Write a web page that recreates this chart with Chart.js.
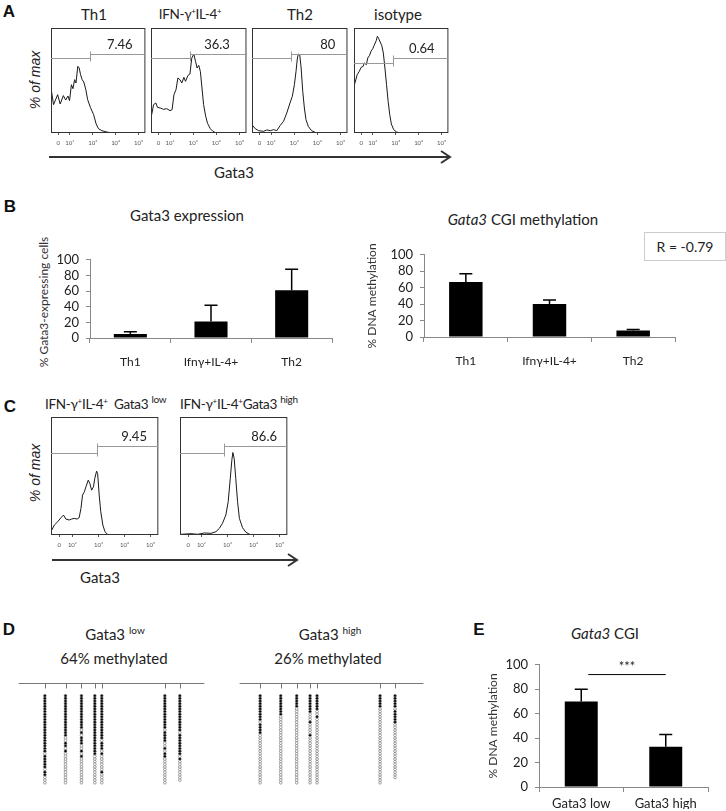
<!DOCTYPE html>
<html>
<head>
<meta charset="utf-8">
<script src="https://cdn.jsdelivr.net/npm/chart.js@4"></script>
<style>
  body { margin: 0; background: #fff; }
  #fig { position: relative; width: 726px; height: 811px; overflow: hidden; font-family: Lato, "Open Sans", sans-serif; color: #222; }
  #fig canvas { position: absolute; }
  .t { position: absolute; white-space: nowrap; line-height: 1; font-size: 15px; }
  .ctr { transform: translate(-50%, -50%); }
  .rot { transform: translate(-50%, -50%) rotate(-90deg); font-family: "Liberation Sans", Arial, sans-serif; font-style: italic; font-size: 14px; }
  .yt { transform: translate(-50%, -50%) rotate(-90deg); font-size: 12px; color: #333; }
  .lab { font-family: "Liberation Sans", Arial, sans-serif; font-weight: bold; font-size: 17px; color: #111; }
  .tight { font-size: 13.5px; letter-spacing: -0.3px; }
  .sp { font-size: 8px; vertical-align: 5px; }
  .sl { font-size: 10px; vertical-align: 6px; }
  #rbox { position: absolute; left: 644px; top: 232px; width: 82px; height: 29px; border: 1px solid #ccc; box-sizing: border-box;
          font-size: 14px; display: flex; align-items: center; justify-content: center; }
  svg { position: absolute; left: 0; top: 0; }
</style>
</head>
<body>
<div id="fig">
  <svg width="726" height="811">
    <g stroke="#333" stroke-width="2" fill="none">
      <line x1="49" y1="157" x2="449" y2="157"/>
      <polyline points="441,151 450,157 441,163"/>
      <line x1="52" y1="560" x2="296" y2="560"/>
      <polyline points="288,554 297,560 288,566"/>
    </g>
  </svg>

  <div class="t lab ctr" style="left:9px;top:11px">A</div>
  <div class="t ctr" style="left:94px;top:14px">Th1</div>
  <div class="t ctr tight" style="left:190px;top:14px">IFN-γ<span class="sp">+</span>IL-4<span class="sp">+</span></div>
  <div class="t ctr" style="left:300px;top:14px">Th2</div>
  <div class="t ctr" style="left:398px;top:14px">isotype</div>
  <div class="t rot" style="left:35px;top:80px">% of max</div>
  <div class="t ctr" style="left:234px;top:172px">Gata3</div>

  <div class="t lab ctr" style="left:10px;top:206px">B</div>
  <div class="t ctr" style="left:187px;top:215px">Gata3 expression</div>
  <div class="t yt" style="left:44px;top:302px">% Gata3-expressing cells</div>
  <div class="t ctr" style="left:523px;top:219px"><i>Gata3</i> CGI methylation</div>
  <div id="rbox">R = -0.79</div>

  <div class="t lab ctr" style="left:10px;top:406px">C</div>
  <div class="t tight" style="left:45px;top:394px">IFN-γ<span class="sp">+</span>IL-4<span class="sp">+</span>&nbsp; Gata3 <span class="sl">low</span></div>
  <div class="t tight" style="left:180px;top:394px">IFN-γ<span class="sp">+</span>IL-4<span class="sp">+</span>Gata3 <span class="sl">high</span></div>
  <div class="t rot" style="left:35px;top:473px">% of max</div>
  <div class="t ctr" style="left:100px;top:577px">Gata3</div>

  <div class="t lab ctr" style="left:9px;top:629px">D</div>
  <div class="t ctr" style="left:115px;top:633px">Gata3 <span class="sl">low</span></div>
  <div class="t ctr" style="left:114px;top:658px">64% methylated</div>
  <div class="t ctr" style="left:330px;top:633px">Gata3 <span class="sl">high</span></div>
  <div class="t ctr" style="left:328px;top:658px">26% methylated</div>

  <div class="t lab ctr" style="left:479px;top:629px">E</div>
  <div class="t ctr" style="left:605px;top:633px"><i>Gata3</i> CGI</div>
</div>

<script>
// ---- flow histograms (x in decades on logicle axis, y in % of max) ----
const histTicks = [1.5, 2, 3, 4, 5];
const histTickLabels = ["0", "10²", "10³", "10⁴", "10⁵"];

const th1X = [1.18, 1.29, 1.47, 1.58, 1.72, 1.82, 1.92, 1.99, 2.07, 2.14, 2.21, 2.27, 2.35, 2.41, 2.47, 2.54, 2.61, 2.70, 2.78, 2.90, 3.04, 3.15, 3.25, 3.40, 3.61, 3.83, 5.3];
const th1Y = [42.9, 27.0, 36.5, 27.6, 35.6, 31.4, 35.2, 30.8, 46.0, 42.2, 50.8, 47.6, 63.5, 61.9, 55.6, 50.8, 48.6, 41.3, 31.7, 24.4, 17.5, 8.6, 4.1, 2.2, 1.0, 0, 0];

const dpX = [1.21, 1.29, 1.39, 1.46, 1.58, 1.72, 1.86, 2.00, 2.09, 2.17, 2.26, 2.34, 2.43, 2.51, 2.60, 2.67, 2.77, 2.86, 2.94, 3.03, 3.10, 3.17, 3.24, 3.31, 3.38, 3.45, 3.54, 3.62, 3.74, 3.85, 3.99, 5.3];
const dpY = [17.5, 27.0, 28.6, 24.4, 23.8, 22.5, 23.2, 21.3, 22.2, 36.5, 41.3, 52.4, 50.8, 47.6, 53.0, 49.2, 54.6, 56.2, 71.4, 75.2, 68.3, 61.9, 64.4, 58.7, 42.9, 27.0, 15.9, 9.2, 4.1, 1.6, 0, 0];

const th2X = [1.18, 1.32, 1.47, 1.68, 1.82, 1.97, 2.11, 2.25, 2.40, 2.54, 2.68, 2.82, 2.92, 3.01, 3.08, 3.14, 3.18, 3.24, 3.30, 3.37, 3.44, 3.51, 3.61, 3.75, 3.97, 5.3];
const th2Y = [7.9, 4.1, 2.2, 1.6, 2.9, 2.2, 3.2, 2.2, 7.3, 11.1, 19.0, 28.6, 34.9, 46.0, 58.7, 71.4, 75.2, 74.6, 61.9, 39.7, 23.8, 12.7, 6.3, 2.2, 0, 0];

const isoX = [1.18, 1.19, 1.21, 1.32, 1.41, 1.49, 1.58, 1.63, 1.72, 1.78, 1.86, 1.92, 2.00, 2.06, 2.15, 2.20, 2.26, 2.32, 2.39, 2.46, 2.53, 2.60, 2.67, 2.74, 2.81, 2.91, 3.03, 3.20, 5.3];
const isoY = [0, 86, 46, 55.6, 58.7, 62.5, 63.5, 66.7, 65.1, 71.4, 74.0, 77.8, 80.3, 83.5, 87.9, 92.1, 89.8, 86.7, 83.5, 76.2, 61.9, 46.0, 30.2, 17.5, 8.6, 3.2, 1.0, 0, 0];

const lowX = [1.21, 1.31, 1.44, 1.56, 1.66, 1.75, 1.88, 1.97, 2.07, 2.18, 2.26, 2.33, 2.39, 2.46, 2.52, 2.61, 2.67, 2.74, 2.81, 2.86, 2.93, 2.97, 3.03, 3.09, 3.17, 3.25, 3.35, 3.48, 5.3];
const lowY = [4.2, 8.5, 11.3, 14.6, 16.9, 13.5, 12.7, 13.5, 14.1, 13.5, 14.6, 22.5, 33.8, 36.6, 40.8, 46.5, 43.7, 38.0, 40.8, 47.9, 54.1, 52.1, 33.8, 19.7, 8.5, 2.8, 0.6, 0, 0];

const highX = [1.22, 1.60, 1.86, 2.11, 2.37, 2.56, 2.69, 2.81, 2.94, 3.03, 3.11, 3.17, 3.21, 3.26, 3.32, 3.39, 3.46, 3.58, 3.71, 3.90, 5.3];
const highY = [0.6, 1.1, 0.6, 1.7, 1.4, 2.8, 5.6, 9.9, 16.9, 28.2, 47.9, 63.4, 69.9, 64.8, 47.9, 28.2, 14.1, 6.2, 2.3, 0, 0];

// gates: cut point, left/right bar height, label and its x
const gateCut    = [2.87, 2.88, 2.87, 2.88, 2.94, 2.88];
const gateLeftY  = [71.4, 71.4, 71.4, 66.7, 69.9, 69.9];
const gateRightY = [75.2, 75.2, 75.2, 71.4, 75.5, 75.5];
const gateLabel  = ["7.46", "36.3", "80", "0.64", "9.45", "86.6"];
const gateLabelX = [4.18, 4.03, 4.45, 4.14, 4.37, 4.41];

// ---- bar panels ----
const yTicks = [0, 20, 40, 60, 80, 100];
const exprCats = ["Th1", "Ifnγ+IL-4+", "Th2"];
const exprMean = [5, 21, 61];
const exprErr = [3, 21, 27];
const methMean = [67, 40, 8];
const methErr = [10, 5, 1];
const cgiCats = ["Gata3 low", "Gata3 high"];
const cgiMean = [70, 33];
const cgiErr = [10, 10];

// ---- bisulfite clones: CpG positions, one string per CpG, top to bottom (1 = methylated) ----
const cpgPos = [0, 21.6, 38.3, 52.3, 59.6, 125.6, 141.3];
const lowClones = [
  "1111111111111111111111011111011000",
  "1111111111111111001101000000000000",
  "1111111111111010111001010000000000",
  "1111111111111111111111100000000000",
  "1111111111111111101110100000010000",
  "1111111111111011110010110000000000",
  "111111111111110111111110100000000"
];
const highClones = [
  "1111111111011110000000000000000000",
  "1111111100000000000000000000000000",
  "1111100000000000000000000000000000",
  "1111111000100001000000000000000000",
  "1111110010000000000000000000000000",
  "1111100000000000000000000000000000",
  "11111011111000000000000000000000"
];

Chart.defaults.font.family = "Lato, 'Open Sans', sans-serif";
Chart.defaults.color = "#222";
Chart.defaults.animation = false;
Chart.defaults.plugins.legend.display = false;
Chart.defaults.plugins.tooltip.enabled = false;

const fig = document.getElementById("fig");

function addCanvas(left, top, w, h) {
  const c = document.createElement("canvas");
  c.width = w;
  c.height = h;
  c.style.left = left + "px";
  c.style.top = top + "px";
  c.style.width = w + "px";
  c.style.height = h + "px";
  fig.appendChild(c);
  return c;
}

const gatePlugin = {
  id: "gate",
  afterDatasetsDraw(chart, args, opts) {
    const { ctx, chartArea: a, scales: { x, y } } = chart;
    ctx.save();
    ctx.strokeStyle = "#333";
    ctx.lineWidth = 1;
    ctx.strokeRect(a.left + 0.5, a.top + 0.5, a.right - a.left - 1, a.bottom - a.top - 1);
    const gx = Math.round(x.getPixelForValue(opts.cut)) + 0.5;
    const yl = Math.round(y.getPixelForValue(opts.left)) + 0.5;
    const yr = Math.round(y.getPixelForValue(opts.right)) + 0.5;
    ctx.strokeStyle = "#999";
    ctx.beginPath();
    ctx.moveTo(a.left, yl);
    ctx.lineTo(gx, yl);
    ctx.moveTo(gx, yr);
    ctx.lineTo(a.right, yr);
    ctx.moveTo(gx, Math.min(yl, yr) - 3);
    ctx.lineTo(gx, Math.max(yl, yr) + 3);
    ctx.stroke();
    ctx.fillStyle = "#222";
    ctx.font = "13px Lato, sans-serif";
    ctx.textAlign = "center";
    ctx.textBaseline = "middle";
    ctx.fillText(opts.label, x.getPixelForValue(opts.labelX), yr - 10);
    ctx.restore();
  }
};

function makeHist(left, top, w, h, xs, ys, g) {
  const c = addCanvas(left, top, w, h + 16);
  new Chart(c, {
    type: "line",
    data: {
      datasets: [{
        data: xs.map((v, k) => ({ x: v, y: ys[k] })),
        borderColor: "#1a1a1a",
        borderWidth: 1,
        pointRadius: 0,
        tension: 0
      }]
    },
    options: {
      responsive: false,
      layout: { padding: 0 },
      scales: {
        x: {
          type: "linear", min: 1.18, max: 5.3,
          afterFit: s => { s.height = 16; },
          afterBuildTicks: s => { s.ticks = histTicks.map(v => ({ value: v })); },
          ticks: { autoSkip: false, maxRotation: 0, padding: 4, font: { size: 6 }, color: "#555",
                   callback: (v, k) => histTickLabels[k] },
          grid: { drawOnChartArea: false, tickLength: 2, color: "#555" },
          border: { display: false }
        },
        y: { display: false, min: 0, max: 100 }
      },
      plugins: {
        gate: { cut: gateCut[g], left: gateLeftY[g], right: gateRightY[g], label: gateLabel[g], labelX: gateLabelX[g] }
      }
    },
    plugins: [gatePlugin]
  });
}

makeHist(51, 28, 96, 105, th1X, th1Y, 0);
makeHist(151, 28, 97, 105, dpX, dpY, 1);
makeHist(252, 28, 97, 105, th2X, th2Y, 2);
makeHist(354, 28, 96, 105, isoX, isoY, 3);
makeHist(51, 417, 108, 118, lowX, lowY, 4);
makeHist(180, 417, 108, 118, highX, highY, 5);

const errPlugin = {
  id: "errbars",
  afterDatasetsDraw(chart, args, opts) {
    const { ctx } = chart;
    const y = chart.scales.y;
    const meta = chart.getDatasetMeta(0);
    const vals = chart.data.datasets[0].data;
    ctx.save();
    ctx.strokeStyle = "#000";
    ctx.lineWidth = 1.5;
    meta.data.forEach((bar, i) => {
      const top = y.getPixelForValue(vals[i] + opts.err[i]);
      ctx.beginPath();
      ctx.moveTo(bar.x, bar.y);
      ctx.lineTo(bar.x, top);
      ctx.moveTo(bar.x - opts.cap, top);
      ctx.lineTo(bar.x + opts.cap, top);
      ctx.stroke();
    });
    if (opts.sig) {
      const s = opts.sig;
      const ys = y.getPixelForValue(s.value);
      const x0 = meta.data[s.from].x + 7;
      const x1 = meta.data[s.to].x;
      ctx.lineWidth = 1;
      ctx.beginPath();
      ctx.moveTo(x0, ys);
      ctx.lineTo(x1, ys);
      ctx.stroke();
      ctx.fillStyle = "#222";
      ctx.font = "13px Lato, sans-serif";
      ctx.textAlign = "center";
      ctx.textBaseline = "middle";
      ctx.fillText(s.text, (x0 + x1) / 2, ys - 8);
    }
    ctx.restore();
  }
};

function makeBar(rect, cats, vals, errs, cfg) {
  const c = addCanvas(rect[0], rect[1], rect[2], rect[3]);
  new Chart(c, {
    type: "bar",
    data: {
      labels: cats,
      datasets: [{ data: vals, backgroundColor: "#000", barPercentage: cfg.barPct, categoryPercentage: 1 }]
    },
    options: {
      responsive: false,
      layout: { padding: cfg.pad },
      scales: {
        x: {
          afterFit: s => { s.height = cfg.xh; },
          grid: { offset: true, drawOnChartArea: false, tickLength: 5, color: "#888" },
          border: { color: "#888" },
          ticks: { padding: cfg.xpad, font: { size: cfg.xfs }, color: "#222" }
        },
        y: {
          min: 0, max: 100,
          afterFit: s => { s.width = cfg.yw; },
          afterBuildTicks: s => { s.ticks = yTicks.map(v => ({ value: v })); },
          grid: { drawOnChartArea: false, tickLength: 4, color: "#888" },
          border: { color: "#888" },
          ticks: { autoSkip: false, padding: 7, font: { size: 13 }, color: "#222" },
          title: { display: !!cfg.ytitle, text: cfg.ytitle, font: { size: 12 }, color: "#333", padding: { top: cfg.tpad, bottom: 0 } }
        }
      },
      plugins: { errbars: { err: errs, cap: 6.5, sig: cfg.sig } }
    },
    plugins: [errPlugin]
  });
}

makeBar([30, 245, 310, 135], exprCats, exprMean, exprErr, {
  pad: { top: 12, right: 8, bottom: 12, left: 0 }, xh: 30, yw: 60, xpad: 12, xfs: 12,
  barPct: 0.41, ytitle: "", tpad: 6
});
makeBar([364, 240, 320, 140], exprCats, methMean, methErr, {
  pad: { top: 12, right: 9, bottom: 13, left: 0 }, xh: 30, yw: 60, xpad: 12, xfs: 12,
  barPct: 0.4, ytitle: "% DNA methylation", tpad: 1
});
makeBar([480, 650, 235, 161], cgiCats, cgiMean, cgiErr, {
  pad: { top: 13, right: 7, bottom: 2, left: 0 }, xh: 22, yw: 59, xpad: 4, xfs: 13,
  barPct: 0.39, ytitle: "% DNA methylation", tpad: 6,
  sig: { from: 0, to: 1, value: 92, text: "***" }
});

const cpgPlugin = {
  id: "cpgline",
  beforeDatasetsDraw(chart) {
    const { ctx, chartArea: a, scales: { x } } = chart;
    const yl = Math.round(a.top) + 0.5;
    ctx.save();
    ctx.strokeStyle = "#777";
    ctx.lineWidth = 1;
    ctx.beginPath();
    ctx.moveTo(a.left, yl);
    ctx.lineTo(a.right, yl);
    cpgPos.forEach(p => {
      const px = Math.round(x.getPixelForValue(p)) + 0.5;
      ctx.moveTo(px, yl);
      ctx.lineTo(px, yl + 5);
    });
    ctx.stroke();
    ctx.restore();
  }
};

function makeClones(left, w, xmin, xmax, clones) {
  const c = addCanvas(left, 678, w, 112);
  const pts = [];
  const fills = [];
  clones.forEach((col, ci) => {
    col.split("").forEach((m, r) => {
      pts.push({ x: cpgPos[ci], y: r });
      fills.push(m === "1" ? "#000" : "#fff");
    });
  });
  new Chart(c, {
    type: "scatter",
    data: {
      datasets: [{
        data: pts,
        backgroundColor: fills,
        borderColor: "#666",
        borderWidth: 0.6,
        pointRadius: 1.35,
        clip: false
      }]
    },
    options: {
      responsive: false,
      layout: { padding: { top: 4, bottom: 4, left: 0, right: 0 } },
      scales: {
        x: { type: "linear", min: xmin, max: xmax, display: false },
        y: { min: -5, max: 34, reverse: true, display: false }
      }
    },
    plugins: [cpgPlugin]
  });
}

makeClones(14, 195, -27.5, 167, lowClones);
makeClones(235, 193, -21.5, 171, highClones);
</script>
</body>
</html>
